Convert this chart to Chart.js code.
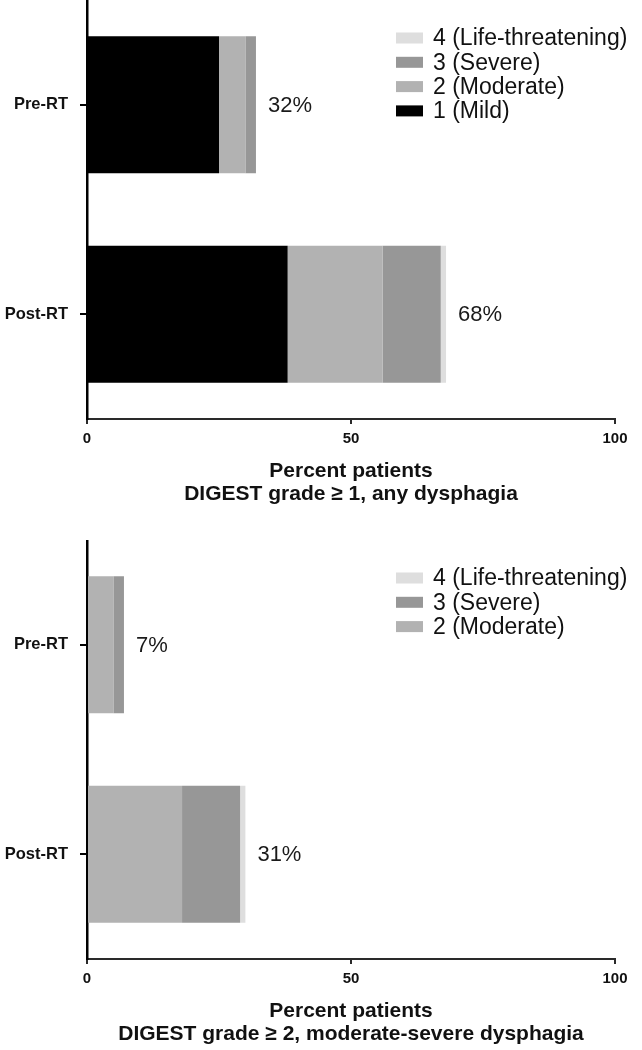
<!DOCTYPE html>
<html>
<head>
<meta charset="utf-8">
<script src="https://cdn.jsdelivr.net/npm/chart.js@4"></script>
<style>
  html, body { margin: 0; padding: 0; background: #fff; overflow: hidden; }
  .panel { position: absolute; left: 0; width: 642px; }
</style>
</head>
<body>
<div class="panel" style="top:0"><canvas id="chartAny" width="642" height="520"></canvas></div>
<div class="panel" style="top:540px"><canvas id="chartModSev" width="642" height="510"></canvas></div>
<script>
// Categories
const timepoints = ['Pre-RT', 'Post-RT'];

// Panel 1: DIGEST grade >= 1 (percent patients per grade)
const anyMild = [25, 38];
const anyModerate = [5, 18];
const anySevere = [2, 11];
const anyLifeThreatening = [0, 1];
const anyTotals = ['32%', '68%'];

// Panel 2: DIGEST grade >= 2
const modModerate = [5, 18];
const modSevere = [2, 11];
const modLifeThreatening = [0, 1];
const modTotals = ['7%', '31%'];

const xTicks = [0, 50, 100];

const FONT = '"Liberation Sans", Arial, Helvetica, sans-serif';

// greyscale fills, one per grade
const gradeStyle = {
    '1 (Mild)': '#000000',
    '2 (Moderate)': '#b2b2b2',
    '3 (Severe)': '#979797',
    '4 (Life-threatening)': '#dedede'
};

function makeDataset(label, values) {
    return {
        label: label,
        data: values,
        backgroundColor: gradeStyle[label],
        borderWidth: 0,
        categoryPercentage: 1.0,
        barPercentage: 0.655
    };
}

// Legend drawn inside the plot area, highest grade first
const insideLegend = {
    id: 'insideLegend',
    afterDraw(chart) {
        const ctx = chart.ctx;
        const x = 396, top = 38, gap = 24.3;
        ctx.save();
        ctx.font = '23px ' + FONT;
        ctx.textBaseline = 'middle';
        const sets = chart.data.datasets.slice().reverse();
        sets.forEach((ds, i) => {
            const y = top + i * gap;
            ctx.fillStyle = ds.backgroundColor;
            ctx.fillRect(x, y - 5.5, 27, 11);
            ctx.fillStyle = '#111';
            ctx.fillText(ds.label, x + 37, y + 1);
        });
        ctx.restore();
    }
};

// Percent total at the end of each stacked bar
const totalLabels = {
    id: 'totalLabels',
    afterDatasetsDraw(chart, args, opts) {
        const ctx = chart.ctx;
        const xs = chart.scales.x, ys = chart.scales.y;
        ctx.save();
        ctx.font = '22px ' + FONT;
        ctx.fillStyle = '#1a1a1a';
        ctx.textBaseline = 'middle';
        chart.data.labels.forEach((cat, i) => {
            let sum = 0;
            chart.data.datasets.forEach(ds => { sum += ds.data[i]; });
            ctx.fillText(opts.labels[i], xs.getPixelForValue(sum) + 12, ys.getPixelForValue(i) + 1);
        });
        ctx.restore();
    }
};

function createPanel(canvasId, datasets, totals, subtitle, axisHeight, titlePad) {
    const ctx = document.getElementById(canvasId).getContext('2d');
    return new Chart(ctx, {
        type: 'bar',
        data: { labels: timepoints, datasets: datasets },
        plugins: [insideLegend, totalLabels],
        options: {
            indexAxis: 'y',
            responsive: false,
            animation: false,
            layout: { autoPadding: false, padding: { left: 0, right: 27, top: 0, bottom: 0 } },
            plugins: {
                legend: { display: false },
                tooltip: { enabled: false },
                totalLabels: { labels: totals }
            },
            scales: {
                x: {
                    stacked: true,
                    min: 0,
                    max: 100,
                    afterBuildTicks: scale => { scale.ticks = xTicks.map(v => ({ value: v })); },
                    afterFit: scale => {
                        scale.height = axisHeight;
                        scale.paddingLeft = 0;
                        scale.paddingRight = 0;
                    },
                    border: { display: true, color: '#2a2a2a', width: 2 },
                    grid: {
                        drawOnChartArea: false,
                        drawTicks: true,
                        tickLength: 5,
                        color: '#2a2a2a',
                        lineWidth: 2
                    },
                    ticks: {
                        color: '#111',
                        padding: 6,
                        maxRotation: 0,
                        font: { family: FONT, size: 15, weight: 'bold' }
                    },
                    title: {
                        display: true,
                        text: ['Percent patients', subtitle],
                        color: '#111',
                        padding: { top: 0, bottom: titlePad },
                        font: { family: FONT, size: 21, weight: 'bold', lineHeight: 1.1 }
                    }
                },
                y: {
                    stacked: true,
                    afterFit: scale => {
                        scale.width = 87;
                        scale.paddingTop = 0;
                        scale.paddingBottom = 0;
                    },
                    border: { display: true, color: '#000', width: 2.5 },
                    grid: {
                        offset: false,
                        drawOnChartArea: false,
                        drawTicks: true,
                        tickLength: 7,
                        color: '#000',
                        lineWidth: 2
                    },
                    ticks: {
                        color: '#111',
                        padding: 12,
                        font: { family: FONT, size: 16.5, weight: 'bold' }
                    }
                }
            }
        }
    });
}

createPanel('chartAny', [
    makeDataset('1 (Mild)', anyMild),
    makeDataset('2 (Moderate)', anyModerate),
    makeDataset('3 (Severe)', anySevere),
    makeDataset('4 (Life-threatening)', anyLifeThreatening)
], anyTotals, 'DIGEST grade \u2265 1, any dysphagia', 101, 14.5);

createPanel('chartModSev', [
    makeDataset('2 (Moderate)', modModerate),
    makeDataset('3 (Severe)', modSevere),
    makeDataset('4 (Life-threatening)', modLifeThreatening)
], modTotals, 'DIGEST grade \u2265 2, moderate-severe dysphagia', 91, 4.5);
</script>
</body>
</html>
